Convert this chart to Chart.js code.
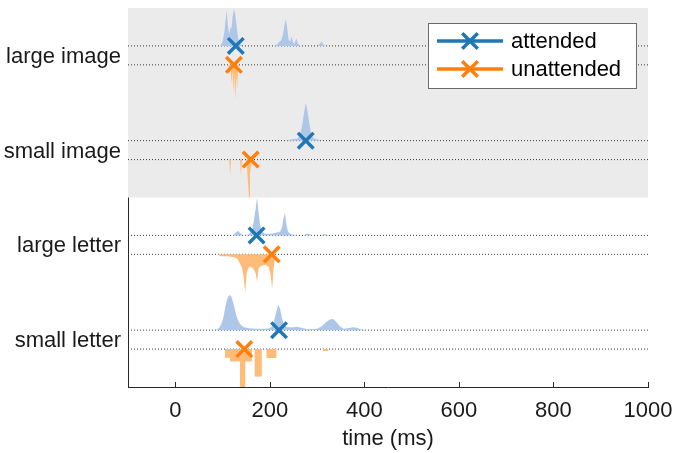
<!DOCTYPE html>
<html><head><meta charset="utf-8">
<script src="https://cdn.jsdelivr.net/npm/chart.js@4"></script>
<style>html,body{margin:0;padding:0;background:#fff}#wrap{width:674px;height:453px}</style>
</head><body><div id="wrap"><canvas id="c" width="674" height="453"></canvas></div>
<script>
// ---------- data ----------
const CATEGORIES = ['small letter', 'large letter', 'small image', 'large image']; // rows 1..4 (bottom to top)
const X_TICKS = [0, 200, 400, 600, 800, 1000];
const SERIES = ['attended', 'unattended'];
const MEDIAN_ATTENDED   = [219.5, 172, 276, 128];   // ms, same order as CATEGORIES
const MEDIAN_UNATTENDED = [146, 204, 159.5, 124];

// histogram outlines: [time (ms), density]
const HIST_ATT_LARGE_IMAGE = [[95,0],[100,0.04],[104,0.15],[107,0.30],[109,0.37],[111,0.22],[114,0.12],[117,0.20],[119,0.18],[121,0.30],[124,0.39],[127,0.33],[130,0.20],[133,0.08],[137,0.02],[142,0],
  [210,0],[216,0.02],[220,0.04],[224,0.06],[228,0.12],[231,0.22],[234,0.28],[237,0.18],[240,0.06],[243,0.05],[246,0.10],[249,0.04],[252,0.02],[256,0.08],[259,0.03],[264,0],[302,0],[307,0.03],[310,0.045],[314,0.01],[318,0]];
const HIST_UNATT_LARGE_IMAGE = [[112,0],[115,0.10],[117,0.02],[119,0.20],[121,0.05],[123,0.30],[125,0.08],[127,0.37],[129,0.10],[131,0.25],[133,0.02],[136,0]];
const HIST_ATT_SMALL_IMAGE = [[235,0],[245,0.015],[258,0.02],[264,0.06],[268,0.15],[272,0.28],[276,0.40],[280,0.30],[284,0.17],[288,0.06],[292,0.025],[300,0.015],[308,0]];
const HIST_UNATT_SMALL_IMAGE = [[114,0],[116,0.17],[118,0],[137,0],[139,0.17],[141,0],[150,0],[152,0.10],[154,0.25],[156,0.40],[158,0.15],[160,0.08],[162,0]];
const HIST_ATT_LARGE_LETTER = [[122,0],[128,0.03],[133,0.05],[138,0.02],[143,0],[155,0.01],[162,0.05],[166,0.15],[170,0.28],[173,0.40],[176,0.25],[179,0.12],[183,0.05],[188,0.02],[195,0.015],[205,0.02],[215,0.03],[222,0.04],[226,0.09],[229,0.18],[232,0.24],[235,0.12],[238,0.05],[242,0.02],[248,0.01],[260,0],[272,0],[278,0.02],[284,0.015],[290,0],[308,0],[314,0.015],[320,0.01],[326,0]];
const HIST_UNATT_LARGE_LETTER = [[90,0],[95,0.02],[110,0.02],[125,0.03],[132,0.05],[137,0.10],[141,0.14],[145,0.25],[148,0.41],[151,0.20],[155,0.14],[160,0.13],[165,0.15],[170,0.20],[173,0.29],[176,0.15],[182,0.12],[190,0.11],[197,0.13],[201,0.20],[205,0.36],[208,0.15],[212,0]];
const HIST_ATT_SMALL_LETTER = [[85,0],[92,0.02],[97,0.06],[102,0.14],[106,0.25],[110,0.33],[114,0.37],[118,0.36],[122,0.30],[126,0.22],[130,0.14],[135,0.08],[140,0.05],[146,0.03],[155,0.02],[170,0.015],[190,0.015],[200,0.02],[206,0.05],[210,0.12],[214,0.20],[218,0.27],[222,0.22],[226,0.12],[230,0.06],[236,0.03],[250,0.03],[258,0.035],[266,0.025],[280,0.01],[300,0.015],[310,0.04],[318,0.08],[326,0.11],[333,0.12],[340,0.09],[348,0.04],[356,0.015],[366,0.02],[376,0.03],[384,0.025],[392,0.01],[404,0]];
// coarse bins: [left edge (ms), density]
const HIST_UNATT_SMALL_LETTER = [[105,0],[105,0.09],[116,0.13],[137,0.42],[148,0.13],[162,0],[168,0.29],[183,0],[193,0.095],[214,0],[312,0.02],[323,0]];

// ---------- styling ----------
const BLUE = '#1f77b4', ORANGE = '#ff7f0e';
const BLUE_FILL = '#aec7e8', ORANGE_FILL = '#ffbb78';
const AXIS = '#262626';
const FONT = '"Liberation Sans", Arial, Helvetica, sans-serif';
const OFF = 0.1;

const HIST_ATT = [HIST_ATT_SMALL_LETTER, HIST_ATT_LARGE_LETTER, HIST_ATT_SMALL_IMAGE, HIST_ATT_LARGE_IMAGE];
const HIST_UNATT = [HIST_UNATT_SMALL_LETTER, HIST_UNATT_LARGE_LETTER, HIST_UNATT_SMALL_IMAGE, HIST_UNATT_LARGE_IMAGE];

const datasets = [];
datasets.push({label: SERIES[0], type: 'line', showLine: false, order: 0,
  data: MEDIAN_ATTENDED.map((t, i) => ({x: t, y: i + 1 + OFF})),
  pointStyle: 'crossRot', pointRadius: 11, pointBorderWidth: 3.5, borderColor: BLUE, backgroundColor: BLUE});
datasets.push({label: SERIES[1], type: 'line', showLine: false, order: 0,
  data: MEDIAN_UNATTENDED.map((t, i) => ({x: t, y: i + 1 - OFF})),
  pointStyle: 'crossRot', pointRadius: 11, pointBorderWidth: 3.5, borderColor: ORANGE, backgroundColor: ORANGE});
CATEGORIES.forEach((c, i) => {
  const bA = i + 1 + OFF, bU = i + 1 - OFF;
  datasets.push({label: 'hA' + i, type: 'line', order: 1, data: HIST_ATT[i].map(([t, h]) => ({x: t, y: bA + h})),
    borderWidth: 0, pointRadius: 0, backgroundColor: BLUE_FILL, borderColor: 'rgba(0,0,0,0)', fill: {value: bA}, tension: 0});
  datasets.push({label: 'hU' + i, type: 'line', order: 1, data: HIST_UNATT[i].map(([t, h]) => ({x: t, y: bU - h})),
    borderWidth: 0, pointRadius: 0, backgroundColor: ORANGE_FILL, borderColor: 'rgba(0,0,0,0)', fill: {value: bU}, tension: 0,
    stepped: HIST_UNATT[i] === HIST_UNATT_SMALL_LETTER ? 'before' : false});
});
CATEGORIES.forEach((c, i) => {
  [i + 1 + OFF, i + 1 - OFF].forEach(b => datasets.push({label: 'base', type: 'line', order: 2,
    data: [{x: -100, y: b}, {x: 1000, y: b}], borderColor: '#3a3a3a', borderWidth: 1, borderDash: [1, 2],
    pointRadius: 0, fill: false}));
});

const bgPlugin = {
  id: 'bg',
  beforeDatasetsDraw(chart) {
    const {ctx, chartArea: a, scales: {x, y}} = chart;
    ctx.save();
    ctx.fillStyle = '#ebebeb';
    const y1 = y.getPixelForValue(4.5), y2 = y.getPixelForValue(2.5);
    ctx.fillRect(a.left, y1, a.right - a.left, y2 - y1);
    ctx.restore();
  },
  afterDraw(chart) {
    const {ctx, chartArea: a, scales: {x, y}} = chart;
    ctx.save();
    ctx.strokeStyle = AXIS; ctx.lineWidth = 1;
    X_TICKS.forEach(v => {
      const px = Math.round(x.getPixelForValue(v)) + 0.5;
      ctx.beginPath(); ctx.moveTo(px, a.bottom); ctx.lineTo(px, a.bottom - 5); ctx.stroke();
    });
    const bx = 428.5, by = 23.5, bw = 208, bh = 65;
    ctx.fillStyle = '#fff'; ctx.fillRect(bx, by, bw, bh);
    ctx.strokeStyle = '#6b6b6b'; ctx.lineWidth = 1; ctx.strokeRect(bx, by, bw, bh);
    [[SERIES[0], BLUE, 41], [SERIES[1], ORANGE, 69]].forEach(([txt, col, yy]) => {
      ctx.strokeStyle = col; ctx.lineWidth = 3.5;
      ctx.beginPath(); ctx.moveTo(437, yy); ctx.lineTo(503, yy); ctx.stroke();
      const r = 11 * Math.SQRT1_2, cx = 470;
      ctx.beginPath(); ctx.moveTo(cx - r, yy - r); ctx.lineTo(cx + r, yy + r);
      ctx.moveTo(cx - r, yy + r); ctx.lineTo(cx + r, yy - r); ctx.stroke();
      ctx.fillStyle = '#000'; ctx.font = '22px ' + FONT; ctx.textBaseline = 'middle'; ctx.textAlign = 'left';
      ctx.fillText(txt, 511, yy + 1);
    });
    ctx.restore();
  }
};

new Chart(document.getElementById('c'), {
  type: 'line',
  data: {datasets},
  options: {
    responsive: false, animation: false, devicePixelRatio: 1,
    layout: {autoPadding: false, padding: {left: 0, top: 8, right: 26, bottom: 0}},
    plugins: {legend: {display: false}, tooltip: {enabled: false}},
    scales: {
      x: {type: 'linear', min: -100, max: 1000,
        afterBuildTicks: s => { s.ticks = X_TICKS.map(v => ({value: v})); },
        afterFit: s => { s.height = 66; s.paddingLeft = 0; s.paddingRight = 0; },
        grid: {display: true, drawOnChartArea: false, drawTicks: false},
        border: {display: true, color: AXIS, width: 1},
        ticks: {color: '#1a1a1a', font: {family: FONT, size: 22}, padding: 11, maxRotation: 0, autoSkip: false, callback: v => String(v)},
        title: {display: true, text: 'time (ms)', color: '#1a1a1a', font: {family: FONT, size: 22}, padding: {top: 0, bottom: 1}}
      },
      y: {type: 'linear', min: 0.5, max: 4.5,
        afterBuildTicks: s => { s.ticks = CATEGORIES.map((c, i) => ({value: i + 1})); },
        afterFit: s => { s.width = 128; s.paddingTop = 0; s.paddingBottom = 0; },
        grid: {display: true, drawOnChartArea: false, drawTicks: false},
        border: {display: true, color: AXIS, width: 1},
        ticks: {color: '#1a1a1a', font: {family: FONT, size: 22}, padding: 7, labelOffset: 1.5, callback: v => CATEGORIES[v - 1]}
      }
    }
  },
  plugins: [bgPlugin]
});
</script>
</body></html>
